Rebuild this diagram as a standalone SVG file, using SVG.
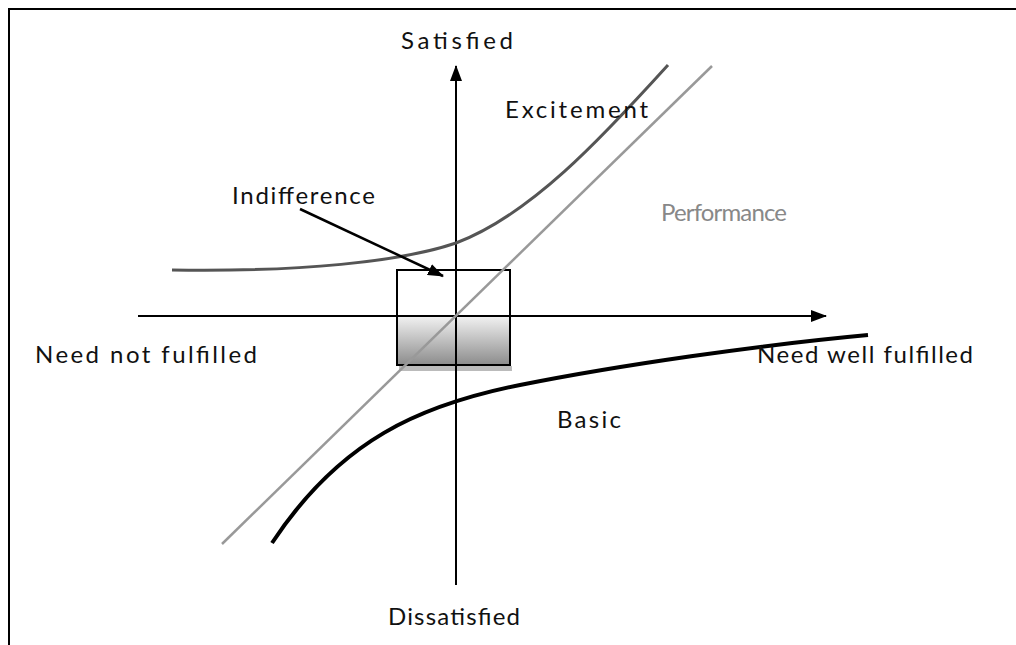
<svg xmlns="http://www.w3.org/2000/svg" width="1016" height="645" viewBox="0 0 1016 645">
<style>
.t{font-family:Lato,"Open Sans","Liberation Sans",sans-serif;font-size:24px;fill:#111}
.ax{stroke:#000;stroke-width:2;fill:none}
</style>
<defs>
<linearGradient id="g" x1="0" y1="0" x2="0" y2="1">
<stop offset="0" stop-color="#f2f2f2"/>
<stop offset="1" stop-color="#8c8c8c"/>
</linearGradient>
<marker id="ah" viewBox="0 0 16 12" refX="15" refY="6" markerWidth="16" markerHeight="12" markerUnits="userSpaceOnUse" orient="auto">
<path d="M0,0 L16,6 L0,12 Z" fill="#000"/>
</marker>
</defs>
<rect width="1016" height="645" fill="#fff"/>
<path d="M9,645 V9 H1016" stroke="#000" stroke-width="2" fill="none"/>
<g id="box">
<rect x="397" y="316" width="113" height="49" fill="url(#g)"/>
<rect x="397" y="270" width="113" height="95" fill="none" stroke="#000" stroke-width="2"/>
<rect x="399" y="366" width="113" height="5" fill="#bbb"/>
</g>
<g id="connectors">
<line class="ax" x1="138" y1="316" x2="826" y2="316" marker-end="url(#ah)"/>
<line class="ax" x1="456" y1="585" x2="456" y2="66" marker-end="url(#ah)"/>
<line x1="222" y1="544" x2="712" y2="66" stroke="#999" stroke-width="2.5"/>
<path d="M172,270 C300,272 400,262 456,243 C530,215 600,140 668,65" stroke="#555" stroke-width="3" fill="none"/>
<path d="M272,543 C340,440 420,405 520,385 S760,345 868,335" stroke="#000" stroke-width="4" fill="none"/>
<line x1="300" y1="209" x2="443" y2="276" stroke="#000" stroke-width="2.5" marker-end="url(#ah)"/>
</g>
<g id="labels">
<text class="t" x="457" y="49" text-anchor="middle" textLength="112">Satisfied</text>
<text class="t" x="505" y="118" textLength="143">Excitement</text>
<text class="t" x="232" y="204" textLength="143">Indifference</text>
<text class="t" x="661" y="221" textLength="126" style="fill:#888">Performance</text>
<text class="t" x="35" y="363" textLength="222">Need not fulfilled</text>
<text class="t" x="757" y="363" textLength="216">Need well fulfilled</text>
<text class="t" x="557" y="428" textLength="64">Basic</text>
<text class="t" x="454" y="625" text-anchor="middle" textLength="132">Dissatisfied</text>
</g>
</svg>
